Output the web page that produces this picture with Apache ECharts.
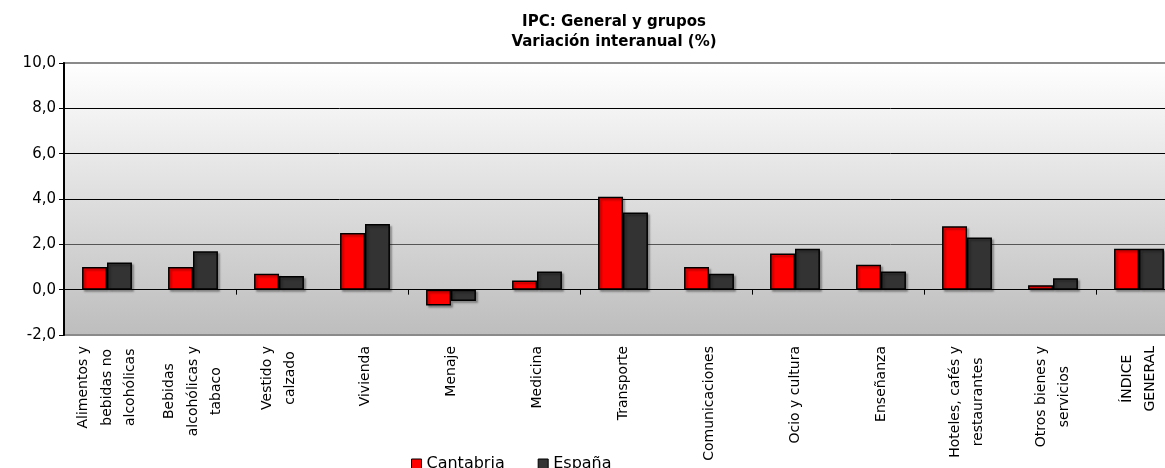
<!DOCTYPE html>
<html>
<head>
<meta charset="utf-8">
<script src="https://cdn.jsdelivr.net/npm/echarts@6/dist/echarts.min.js"></script>
<style>
html,body{margin:0;padding:0;background:#fff;}
#chart{width:1165px;height:468px;}
</style>
</head>
<body>
<div id="chart"></div>
<script>
const categories = [
  "Alimentos y\nbebidas no\nalcohólicas",
  "Bebidas\nalcohólicas y\ntabaco",
  "Vestido y\ncalzado",
  "Vivienda",
  "Menaje",
  "Medicina",
  "Transporte",
  "Comunicaciones",
  "Ocio y cultura",
  "Enseñanza",
  "Hoteles, cafés y\nrestaurantes",
  "Otros bienes y\nservicios",
  "ÍNDICE\nGENERAL"
];
const cantabria = [1.0, 1.0, 0.7, 2.5, -0.7, 0.4, 4.1, 1.0, 1.6, 1.1, 2.8, 0.2, 1.8];
const espana    = [1.2, 1.7, 0.6, 2.9, -0.5, 0.8, 3.4, 0.7, 1.8, 0.8, 2.3, 0.5, 1.8];
const seriesNames = ["Cantabria", "España"];
const yMin = -2, yMax = 10, yStep = 2;

const chart = echarts.init(document.getElementById('chart'), null, {renderer: 'canvas'});
const barStyle = (c) => ({
  color: c, borderColor: '#000', borderWidth: 1.5,
  shadowColor: 'rgba(0,0,0,0.3)', shadowOffsetX: 2, shadowOffsetY: 2, shadowBlur: 2
});
chart.setOption({
  animation: false,
  title: {
    text: "IPC: General y grupos\nVariación interanual (%)",
    left: 609, top: 7, textAlign: 'center',
    textStyle: {fontFamily: 'DejaVu Sans', fontSize: 15, fontWeight: 'bold', color: '#000', lineHeight: 20}
  },
  legend: {
    data: seriesNames, left: 406, top: 451, itemWidth: 10, itemHeight: 10, itemGap: 33,
    icon: 'rect',
    textStyle: {fontFamily: 'DejaVu Sans', fontSize: 16, color: '#000'},
    itemStyle: {borderColor: '#000', borderWidth: 1}
  },
  grid: {
    left: 64, top: 63, height: 272, width: 1118,
    outerBoundsMode: 'none',
    show: true,
    backgroundColor: new echarts.graphic.LinearGradient(0, 0, 0, 1, [
      {offset: 0, color: '#ffffff'}, {offset: 1, color: '#bdbdbd'}
    ]),
    borderColor: '#8a8a8a', borderWidth: 2
  },
  xAxis: [{
    type: 'category', data: categories, position: 'bottom',
    axisLine: {show: false, onZero: false},
    axisTick: {show: false},
    axisLabel: {
      rotate: 90, margin: 11, interval: 0,
      fontFamily: 'DejaVu Sans', fontSize: 14, color: '#000', lineHeight: 23.5,
      formatter: v => v.split('\n').map(s => '{c|' + s + '}').join('\n'),
      rich: {c: {align: 'center', fontFamily: 'DejaVu Sans', fontSize: 14, color: '#000', lineHeight: 23.5}}
    }
  }, {
    type: 'category', data: categories, position: 'bottom',
    axisLine: {show: true, onZero: true, lineStyle: {color: '#000', width: 1}},
    axisTick: {show: true, length: 5, inside: false, lineStyle: {color: '#000'}},
    axisLabel: {show: false}
  }],
  yAxis: {
    type: 'value', min: yMin, max: yMax, interval: yStep,
    axisLine: {show: true, lineStyle: {color: '#000', width: 2}},
    axisTick: {show: true, length: 5, lineStyle: {color: '#000'}},
    axisLabel: {
      fontFamily: 'DejaVu Sans', fontSize: 15, color: '#000', margin: 8,
      formatter: v => v.toFixed(1).replace('.', ',')
    },
    splitLine: {show: true, lineStyle: {
      color: ['rgba(0,0,0,0)', '#000', '#555', '#000', '#000', '#000', 'rgba(0,0,0,0)'], width: 1}}
  },
  series: [{
    name: seriesNames[0], type: 'bar', data: cantabria, xAxisIndex: 0,
    barGap: '0%', barCategoryGap: '42%', itemStyle: barStyle('#ff0000')
  }, {
    name: seriesNames[1], type: 'bar', data: espana, xAxisIndex: 0,
    barGap: '0%', barCategoryGap: '42%', itemStyle: barStyle('#333333')
  }]
});
</script>
</body>
</html>
